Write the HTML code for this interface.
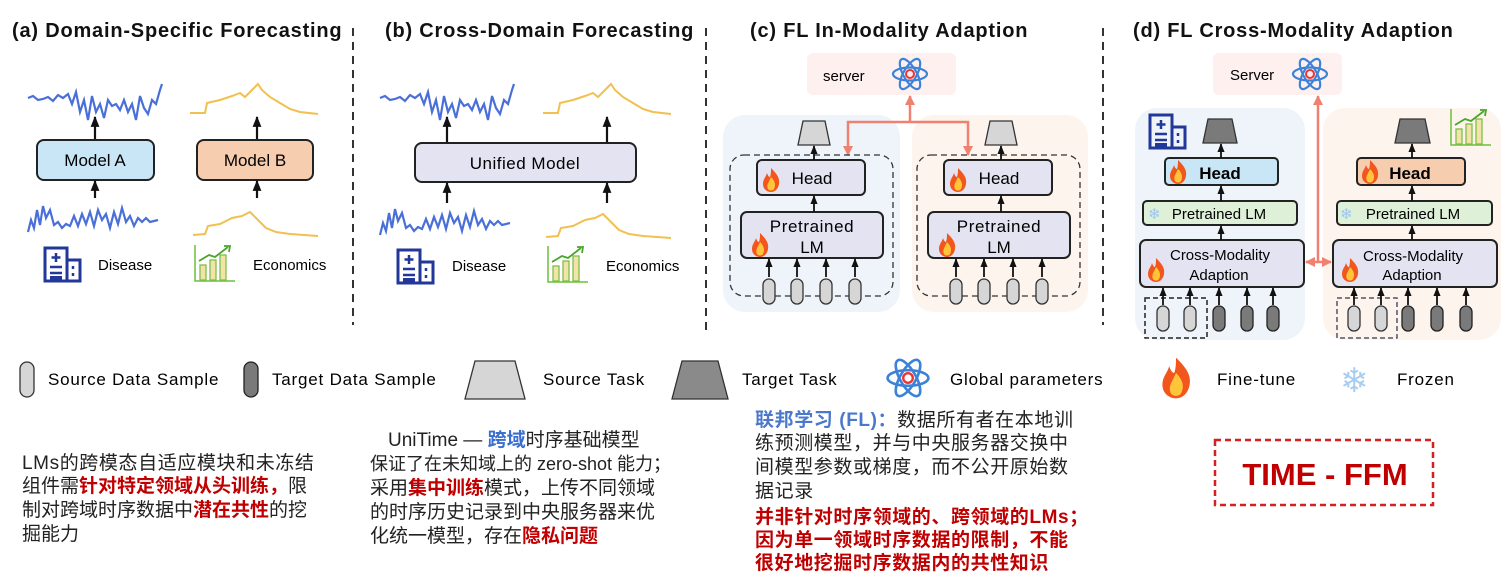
<!DOCTYPE html>
<html><head><meta charset="utf-8"><style>
html,body{margin:0;padding:0;background:#fff;width:1511px;height:585px;overflow:hidden}
svg{display:block}
text{font-family:"Liberation Sans","Noto Sans CJK SC",sans-serif}
</style></head><body>
<svg width="1511" height="585" viewBox="0 0 1511 585" xmlns="http://www.w3.org/2000/svg">
<defs>
<marker id="ah" viewBox="0 0 10 10" refX="9" refY="5" markerWidth="5" markerHeight="5" orient="auto-start-reverse"><path d="M0,1 L10,5 L0,9 z" fill="#111"/></marker>
<marker id="ar" viewBox="0 0 10 10" refX="9" refY="5" markerWidth="4" markerHeight="4" orient="auto-start-reverse"><path d="M0,0 L10,5 L0,10 z" fill="#f08070"/></marker>
<g id="atom"><ellipse cx="0" cy="0" rx="17" ry="6.5" fill="none" stroke="#3b82d8" stroke-width="2.2"/><ellipse cx="0" cy="0" rx="17" ry="6.5" fill="none" stroke="#3b82d8" stroke-width="2.2" transform="rotate(60)"/><ellipse cx="0" cy="0" rx="17" ry="6.5" fill="none" stroke="#3b82d8" stroke-width="2.2" transform="rotate(-60)"/><circle r="4" fill="none" stroke="#e33" stroke-width="2"/></g>
<g id="fire"><path d="M0,-12 C6,-6 9,-2 8,4 C7,10 3,12 0,12 C-4,12 -8,9 -8,4 C-8,-1 -5,-3 -4,-7 C-3,-4 -2,-3 -1,-3 C0,-6 0,-9 0,-12z" fill="#f2561d"/><path d="M0,-3 C4,1 5,5 3,9 C2,11 -2,11 -3,9 C-5,5 -2,2 0,-3z" fill="#ffc53a"/></g>
<g id="cylL"><rect x="-6" y="-12" width="12" height="25" rx="6" fill="#d6d6d6" stroke="#333" stroke-width="1.3"/></g>
<g id="cylD"><rect x="-6" y="-12" width="12" height="25" rx="6" fill="#7a7a7a" stroke="#222" stroke-width="1.3"/></g>
<g id="hosp"><rect x="0" y="0" width="22" height="33" fill="none" stroke="#22379a" stroke-width="3"/><rect x="22" y="12" width="13" height="21" fill="none" stroke="#22379a" stroke-width="3"/><path d="M11,5 v9 M6.5,9.5 h9 M5,19 h12 M5,25 h12 M28,18 v3 M28,25 v3" stroke="#22379a" stroke-width="2.5"/><rect x="5" y="28" width="12" height="5" fill="#22379a"/></g>
<g id="chart"><path d="M0,0 V36 H40" fill="none" stroke="#6cbf3a" stroke-width="1.5"/><rect x="5" y="20" width="6" height="15" fill="#f3e3a8" stroke="#7cc04a" stroke-width="1.3"/><rect x="15" y="15" width="6" height="20" fill="#f3e3a8" stroke="#7cc04a" stroke-width="1.3"/><rect x="25" y="10" width="6" height="25" fill="#f3e3a8" stroke="#7cc04a" stroke-width="1.3"/><path d="M4,16 L14,10 L20,12 L33,2" fill="none" stroke="#4aa52a" stroke-width="1.8"/><path d="M29,1 L35,1 L34,7" fill="none" stroke="#4aa52a" stroke-width="1.8"/></g>
<polyline id="bt" points="28,98 33,96 38,100 43,99 48,97 53,101 58,95 63,98 68,94 72,104 76,92 80,112 84,100 88,120 92,96 96,112 100,104 104,118 108,100 112,106 116,104 120,110 124,100 128,112 132,104 136,120 140,96 144,108 148,114 152,100 156,104 160,90 162,84" fill="none" stroke="#4a6fd8" stroke-width="2.2"/>
<polyline id="bb" points="28,232 31,220 34,228 37,210 40,225 43,206 46,218 50,210 54,225 58,222 62,228 66,224 70,226 74,216 78,226 82,214 86,224 90,212 94,226 98,210 102,220 106,214 110,228 114,212 118,224 122,208 126,222 130,216 134,226 138,218 142,222 146,218 150,222 158,220" fill="none" stroke="#4a6fd8" stroke-width="2.2"/>
<polyline id="yt" points="190,113 205,113 207,103 220,100 232,96 240,93 245,97 252,90 258,84 262,90 270,97 280,103 290,109 300,112 318,114" fill="none" stroke="#f0c050" stroke-width="2"/>
<polyline id="yb" points="193,235 205,234 208,226 220,224 232,218 242,216 250,212 258,220 266,228 276,232 290,234 318,236" fill="none" stroke="#f0c050" stroke-width="2"/>
</defs>

<!-- titles -->
<g font-size="20" font-weight="bold" fill="#111" letter-spacing="0.8">
<text x="12" y="37">(a) Domain-Specific Forecasting</text>
<text x="385" y="37">(b) Cross-Domain Forecasting</text>
<text x="750" y="37">(c) FL In-Modality Adaption</text>
<text x="1133" y="37">(d) FL Cross-Modality Adaption</text>
</g>
<g stroke="#333" stroke-width="2" stroke-dasharray="8,6">
<line x1="353" y1="28" x2="353" y2="325"/><line x1="706" y1="28" x2="706" y2="330"/><line x1="1103" y1="28" x2="1103" y2="325"/>
</g>

<!-- (a) -->
<use href="#bt"/><use href="#bb"/><use href="#yt"/><use href="#yb"/>
<rect x="37" y="140" width="117" height="40" rx="7" fill="#c9e6f6" stroke="#222" stroke-width="2"/>
<rect x="197" y="140" width="116" height="40" rx="7" fill="#f7cdb0" stroke="#222" stroke-width="2"/>
<text x="95" y="166" font-size="17" text-anchor="middle">Model A</text>
<text x="255" y="166" font-size="17" text-anchor="middle">Model B</text>
<g stroke="#111" stroke-width="2.2" marker-end="url(#ah)">
<line x1="95" y1="198" x2="95" y2="181"/><line x1="95" y1="139" x2="95" y2="117"/>
<line x1="257" y1="198" x2="257" y2="181"/><line x1="257" y1="139" x2="257" y2="117"/>
</g>
<use href="#hosp" x="45" y="248"/><text x="98" y="270" font-size="15">Disease</text>
<use href="#chart" x="195" y="245"/><text x="253" y="270" font-size="15">Economics</text>

<!-- (b) -->
<use href="#bt" x="352"/><use href="#bb" x="352" y="3"/><use href="#yt" x="353"/><use href="#yb" x="353" y="2"/>
<rect x="415" y="143" width="221" height="39" rx="7" fill="#e3e3f2" stroke="#222" stroke-width="2"/>
<text x="525" y="169" font-size="17" text-anchor="middle" letter-spacing="0.5">Unified Model</text>
<g stroke="#111" stroke-width="2.2" marker-end="url(#ah)">
<line x1="447" y1="203" x2="447" y2="183"/><line x1="447" y1="142" x2="447" y2="117"/>
<line x1="607" y1="203" x2="607" y2="183"/><line x1="607" y1="142" x2="607" y2="117"/>
</g>
<use href="#hosp" x="398" y="250"/><text x="452" y="271" font-size="15">Disease</text>
<use href="#chart" x="548" y="246"/><text x="606" y="271" font-size="15">Economics</text>

<!-- (c) -->
<rect x="807" y="53" width="149" height="42" rx="6" fill="#fdf0ef"/>
<text x="823" y="81" font-size="15">server</text>
<use href="#atom" x="910" y="74"/>
<rect x="723" y="115" width="177" height="197" rx="22" fill="#eef4fa"/>
<rect x="912" y="115" width="176" height="197" rx="22" fill="#fdf4ee"/>
<g stroke="#f08070" stroke-width="2.5" fill="none">
<line x1="910" y1="122" x2="910" y2="96" marker-end="url(#ar)"/>
<polyline points="848,155 848,122 968,122 968,155" marker-start="url(#ar)" marker-end="url(#ar)"/>
</g>
<g id="cpanel">
<polygon points="803,121 825,121 830,145 798,145" fill="#d6d6d6" stroke="#333" stroke-width="1.3"/>
<rect x="730" y="155" width="163" height="141" rx="14" fill="none" stroke="#333" stroke-width="1.3" stroke-dasharray="6,4"/>
<rect x="757" y="160" width="108" height="35" rx="5" fill="#e3e3f2" stroke="#222" stroke-width="2"/>
<rect x="741" y="212" width="142" height="46" rx="6" fill="#e3e3f2" stroke="#222" stroke-width="2"/>
<use href="#fire" x="771" y="180"/><text x="812" y="184" font-size="17" text-anchor="middle">Head</text>
<use href="#fire" x="760" y="245"/><text x="812" y="232" font-size="17" text-anchor="middle" letter-spacing="0.6">Pretrained</text><text x="812" y="253" font-size="17" text-anchor="middle">LM</text>
<g stroke="#111" stroke-width="1.8" marker-end="url(#ah)">
<line x1="814" y1="160" x2="814" y2="146"/><line x1="814" y1="212" x2="814" y2="196"/>
<line x1="769" y1="277" x2="769" y2="259"/><line x1="797" y1="277" x2="797" y2="259"/><line x1="826" y1="277" x2="826" y2="259"/><line x1="855" y1="277" x2="855" y2="259"/>
</g>
</g>
<use href="#cylL" x="769" y="291"/><use href="#cylL" x="797" y="291"/><use href="#cylL" x="826" y="291"/><use href="#cylL" x="855" y="291"/>
<use href="#cpanel" x="187"/>
<use href="#cylL" x="956" y="291"/><use href="#cylL" x="984" y="291"/><use href="#cylL" x="1013" y="291"/><use href="#cylL" x="1042" y="291"/>

<!-- (d) -->
<rect x="1213" y="53" width="129" height="42" rx="6" fill="#fdf0ef"/>
<text x="1230" y="80" font-size="15">Server</text>
<use href="#atom" x="1310" y="74"/>
<rect x="1135" y="108" width="170" height="232" rx="22" fill="#eef4fa"/>
<rect x="1323" y="108" width="178" height="232" rx="22" fill="#fdf4ee"/>
<use href="#hosp" x="1150" y="115"/>
<use href="#chart" x="1451" y="109"/>
<g stroke="#f08070" stroke-width="2.5" fill="none">
<line x1="1318" y1="262" x2="1318" y2="96" marker-end="url(#ar)"/>
<line x1="1306" y1="262" x2="1331" y2="262" marker-start="url(#ar)" marker-end="url(#ar)"/>
</g>
<polygon points="1208,119 1232,119 1237,143 1203,143" fill="#7a7a7a" stroke="#333" stroke-width="1.3"/>
<rect x="1165" y="158" width="113" height="27" rx="4" fill="#c9e6f6" stroke="#222" stroke-width="2"/>
<rect x="1143" y="201" width="154" height="24" rx="4" fill="#dff0d8" stroke="#222" stroke-width="2"/>
<rect x="1140" y="240" width="164" height="47" rx="6" fill="#e3e3f2" stroke="#222" stroke-width="2"/>
<use href="#fire" x="1178" y="172"/><text x="1220" y="179" font-size="17" font-weight="bold" text-anchor="middle">Head</text>
<text x="1148" y="219" font-size="15" fill="#9cc6ec">❄</text><text x="1219" y="219" font-size="15" text-anchor="middle">Pretrained LM</text>
<use href="#fire" x="1156" y="270"/><text x="1220" y="260" font-size="15" text-anchor="middle">Cross-Modality</text><text x="1219" y="280" font-size="15" text-anchor="middle">Adaption</text>
<rect x="1145" y="298" width="62" height="40" fill="none" stroke="#222" stroke-width="1.5" stroke-dasharray="5,3"/>
<use href="#cylL" x="1163" y="318"/><use href="#cylL" x="1190" y="318"/><use href="#cylD" x="1219" y="318"/><use href="#cylD" x="1247" y="318"/><use href="#cylD" x="1273" y="318"/>
<g stroke="#111" stroke-width="1.8" marker-end="url(#ah)">
<line x1="1221" y1="158" x2="1221" y2="144"/><line x1="1221" y1="201" x2="1221" y2="186"/><line x1="1221" y1="240" x2="1221" y2="226"/>
<line x1="1163" y1="305" x2="1163" y2="288"/><line x1="1190" y1="305" x2="1190" y2="288"/><line x1="1219" y1="305" x2="1219" y2="288"/><line x1="1247" y1="305" x2="1247" y2="288"/><line x1="1273" y1="305" x2="1273" y2="288"/>
</g>
<polygon points="1400,119 1425,119 1430,143 1395,143" fill="#7a7a7a" stroke="#333" stroke-width="1.3"/>
<rect x="1357" y="158" width="108" height="27" rx="4" fill="#f7cdb0" stroke="#222" stroke-width="2"/>
<rect x="1337" y="201" width="155" height="24" rx="4" fill="#dff0d8" stroke="#222" stroke-width="2"/>
<rect x="1333" y="240" width="164" height="47" rx="6" fill="#e3e3f2" stroke="#222" stroke-width="2"/>
<use href="#fire" x="1370" y="172"/><text x="1410" y="179" font-size="17" font-weight="bold" text-anchor="middle">Head</text>
<text x="1340" y="219" font-size="15" fill="#9cc6ec">❄</text><text x="1413" y="219" font-size="15" text-anchor="middle">Pretrained LM</text>
<use href="#fire" x="1350" y="270"/><text x="1413" y="261" font-size="15" text-anchor="middle">Cross-Modality</text><text x="1412" y="280" font-size="15" text-anchor="middle">Adaption</text>
<rect x="1337" y="298" width="60" height="40" fill="none" stroke="#556" stroke-width="1.5" stroke-dasharray="5,3"/>
<use href="#cylL" x="1354" y="318"/><use href="#cylL" x="1381" y="318"/><use href="#cylD" x="1408" y="318"/><use href="#cylD" x="1437" y="318"/><use href="#cylD" x="1466" y="318"/>
<g stroke="#111" stroke-width="1.8" marker-end="url(#ah)">
<line x1="1412" y1="158" x2="1412" y2="144"/><line x1="1412" y1="201" x2="1412" y2="186"/><line x1="1412" y1="240" x2="1412" y2="226"/>
<line x1="1354" y1="305" x2="1354" y2="288"/><line x1="1381" y1="305" x2="1381" y2="288"/><line x1="1408" y1="305" x2="1408" y2="288"/><line x1="1437" y1="305" x2="1437" y2="288"/><line x1="1466" y1="305" x2="1466" y2="288"/>
</g>

<!-- legend -->
<g font-size="17" letter-spacing="0.8">
<rect x="20" y="362" width="14" height="35" rx="7" fill="#d6d6d6" stroke="#333" stroke-width="1.3"/>
<text x="48" y="385">Source Data Sample</text>
<rect x="244" y="362" width="14" height="35" rx="7" fill="#7a7a7a" stroke="#222" stroke-width="1.3"/>
<text x="272" y="385">Target Data Sample</text>
<polygon points="475,361 515,361 525,399 465,399" fill="#d6d6d6" stroke="#333" stroke-width="1.3"/>
<text x="543" y="385">Source Task</text>
<polygon points="682,361 718,361 728,399 672,399" fill="#8a8a8a" stroke="#333" stroke-width="1.3"/>
<text x="742" y="385">Target Task</text>
<use href="#atom" transform="translate(908 378) scale(1.2)"/>
<text x="950" y="385">Global parameters</text>
<use href="#fire" transform="translate(1176 378) scale(1.7)"/>
<text x="1217" y="385">Fine-tune</text>
<text x="1340" y="392" font-size="34" fill="#a8cdf0">❄</text>
<text x="1397" y="385">Frozen</text>
</g>

<!-- bottom text -->
<g font-size="19" fill="#222">
<text x="22" y="469" letter-spacing="0.6">LMs的跨模态自适应模块和未冻结</text>
<text x="22" y="492">组件需<tspan fill="#c00000" font-weight="bold">针对特定领域从头训练，</tspan>限</text>
<text x="22" y="516">制对跨域时序数据中<tspan fill="#c00000" font-weight="bold">潜在共性</tspan>的挖</text>
<text x="22" y="540">掘能力</text>

<text x="388" y="446">UniTime — <tspan fill="#3a6fd0" font-weight="bold">跨域</tspan>时序基础模型</text>
<text x="370" y="470" font-size="18">保证了在未知域上的 zero-shot 能力；</text>
<text x="370" y="494">采用<tspan fill="#c00000" font-weight="bold">集中训练</tspan>模式，上传不同领域</text>
<text x="370" y="518">的时序历史记录到中央服务器来优</text>
<text x="370" y="542">化统一模型，存在<tspan fill="#c00000" font-weight="bold">隐私问题</tspan></text>

<g letter-spacing="0.6">
<text x="755" y="426"><tspan fill="#4a78cc" font-weight="bold">联邦学习 (FL)：</tspan>数据所有者在本地训</text>
<text x="755" y="449">练预测模型，并与中央服务器交换中</text>
<text x="755" y="473">间模型参数或梯度，而不公开原始数</text>
<text x="755" y="497">据记录</text>
<g fill="#c00000" font-weight="bold">
<text x="755" y="523">并非针对时序领域的、跨领域的LMs；</text>
<text x="755" y="546">因为单一领域时序数据的限制，不能</text>
<text x="755" y="569">很好地挖掘时序数据内的共性知识</text>
</g>
</g>
</g>
<rect x="1215" y="440" width="218" height="65" fill="none" stroke="#d42020" stroke-width="2.5" stroke-dasharray="6,4"/>
<text x="1325" y="485" font-size="31" font-weight="bold" fill="#c00000" text-anchor="middle">TIME - FFM</text>
</svg>
</body></html>
